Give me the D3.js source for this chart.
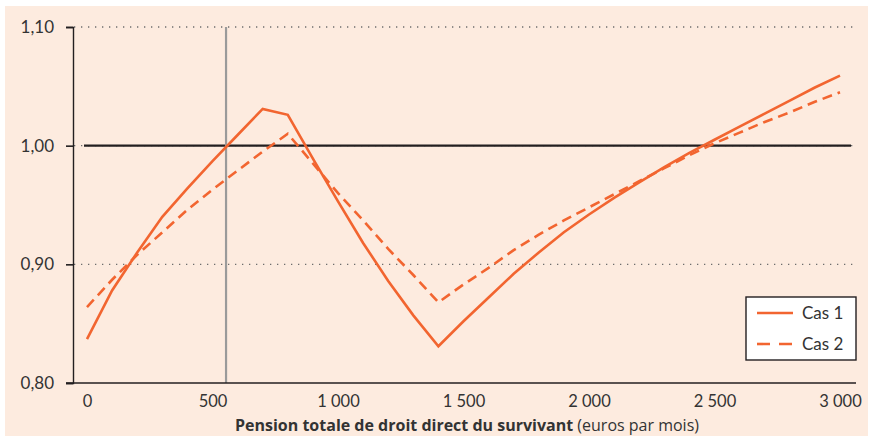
<!DOCTYPE html>
<html>
<head>
<meta charset="utf-8">
<script src="https://cdn.jsdelivr.net/npm/d3@7"></script>
<style>
  html, body { margin: 0; padding: 0; background: #fff; }
  svg text { font-family: "Lato", "Open Sans", sans-serif; fill: #333; }
</style>
</head>
<body>
<svg id="chart" width="870" height="438"></svg>
<script>
// pension totale de droit direct (euros par mois)
const pension = [0, 100, 200, 300, 400, 500, 600, 700, 800, 900, 1000,
  1100, 1200, 1300, 1400, 1500, 1600, 1700, 1800, 1900, 2000,
  2100, 2200, 2300, 2400, 2500, 2600, 2700, 2800, 2900, 3000];

const cas1 = [0.837, 0.878, 0.910, 0.940, 0.964, 0.987, 1.009, 1.031, 1.026, 0.989, 0.953,
  0.918, 0.886, 0.857, 0.831, 0.852, 0.872, 0.892, 0.910, 0.927, 0.942,
  0.956, 0.969, 0.982, 0.994, 1.005, 1.016, 1.027, 1.038, 1.049, 1.059];

const cas2 = [0.864, 0.887, 0.908, 0.927, 0.946, 0.963, 0.979, 0.995, 1.010, 0.985, 0.960,
  0.937, 0.913, 0.891, 0.868, 0.883, 0.897, 0.912, 0.925, 0.937, 0.948,
  0.959, 0.970, 0.981, 0.992, 1.002, 1.011, 1.020, 1.028, 1.037, 1.045];

const yTicks = [0.80, 0.90, 1.00, 1.10];
const xTicks = [0, 500, 1000, 1500, 2000, 2500, 3000];
const seuil = 554;   // trait vertical gris
const series = [
  {name: "Cas 1", values: cas1, dash: null},
  {name: "Cas 2", values: cas2, dash: "10,6"}
];

const fr = d3.formatLocale({decimal: ",", thousands: "\u00a0", grouping: [3], currency: ["", " €"]});

const svg = d3.select('#chart');
const orange = "#f26530";

// fond
svg.append('rect')
    .attr('x', 5).attr('y', 6)
    .attr('width', 863).attr('height', 430)
    .attr('fill', '#fdebdf');

const x = d3.scaleLinear().domain([0, 3000]).range([87, 840]);
const y = d3.scaleLinear().domain([0.8, 1.1]).range([383, 27]);

// grille pointillée
svg.append('g').selectAll('line')
    .data(yTicks.filter(d => d > 0.8))
    .enter().append('line')
    .attr('x1', 74).attr('x2', 856)
    .attr('y1', d => y(d)).attr('y2', d => y(d))
    .attr('stroke', '#6d6d6d')
    .attr('stroke-width', 1.3)
    .attr('stroke-dasharray', '1.3,5.7');

// ligne de référence 1,00
svg.append('line')
    .attr('x1', 84).attr('x2', 851)
    .attr('y1', y(1)).attr('y2', y(1))
    .attr('stroke', '#231f20').attr('stroke-width', 2.2);

// trait vertical
svg.append('line')
    .attr('x1', x(seuil)).attr('x2', x(seuil))
    .attr('y1', y(1.1)).attr('y2', y(0.8))
    .attr('stroke', '#9a9a9a').attr('stroke-width', 2.2);

// axe vertical
const yAxis = d3.axisLeft(y).tickValues(yTicks).tickFormat(fr.format('.2f')).tickSize(7).tickPadding(12);
const gy = svg.append('g').attr('transform', 'translate(73,0)').call(yAxis);
gy.select('.domain').attr('stroke', '#231f20').attr('stroke-width', 1.4);
gy.selectAll('.tick line').attr('stroke', '#231f20').attr('stroke-width', 1.6);
gy.selectAll('.tick text').attr('font-size', 17).attr('fill', '#333')
    .style('font-family', '"Lato", sans-serif');

// axe horizontal
svg.append('line')
    .attr('x1', 66).attr('x2', 856)
    .attr('y1', y(0.8)).attr('y2', y(0.8))
    .attr('stroke', '#231f20').attr('stroke-width', 1.4);

const xAxis = d3.axisBottom(x).tickValues(xTicks).tickFormat(fr.format(',d')).tickSize(0).tickPadding(12);
const gx = svg.append('g').attr('transform', 'translate(0,' + y(0.8) + ')').call(xAxis);
gx.select('.domain').remove();
gx.selectAll('.tick text').attr('font-size', 16.5).attr('fill', '#333')
    .style('font-family', '"Lato", sans-serif');

// titre de l'axe
const title = svg.append('text')
    .attr('x', 467).attr('y', 431)
    .attr('text-anchor', 'middle')
    .attr('font-size', 16)
    .style('font-family', '"Open Sans", sans-serif');
title.append('tspan').attr('font-weight', 'bold').text('Pension totale de droit direct du survivant');
title.append('tspan').text(' (euros par mois)');

// courbes
const line = d3.line()
    .x((d, i) => x(pension[i]))
    .y(d => y(d));

svg.append('g').selectAll('path')
    .data(series)
    .enter().append('path')
    .attr('d', d => line(d.values))
    .attr('fill', 'none')
    .attr('stroke', orange)
    .attr('stroke-width', 2.6)
    .attr('stroke-linejoin', 'miter')
    .attr('stroke-dasharray', d => d.dash);

// légende
const leg = svg.append('g').attr('transform', 'translate(746,297)');
leg.append('rect')
    .attr('width', 110).attr('height', 63)
    .attr('fill', '#fff')
    .attr('stroke', '#231f20').attr('stroke-width', 1.4);

const items = leg.selectAll('g.item')
    .data(series)
    .enter().append('g')
    .attr('transform', (d, i) => 'translate(0,' + (16 + i * 31) + ')');

items.append('line')
    .attr('x1', 11).attr('x2', 47)
    .attr('stroke', orange).attr('stroke-width', 2.6)
    .attr('stroke-dasharray', d => d.dash ? '13,9' : null);

items.append('text')
    .attr('x', 56).attr('dy', '0.35em')
    .attr('font-size', 17)
    .text(d => d.name);
</script>
</body>
</html>
